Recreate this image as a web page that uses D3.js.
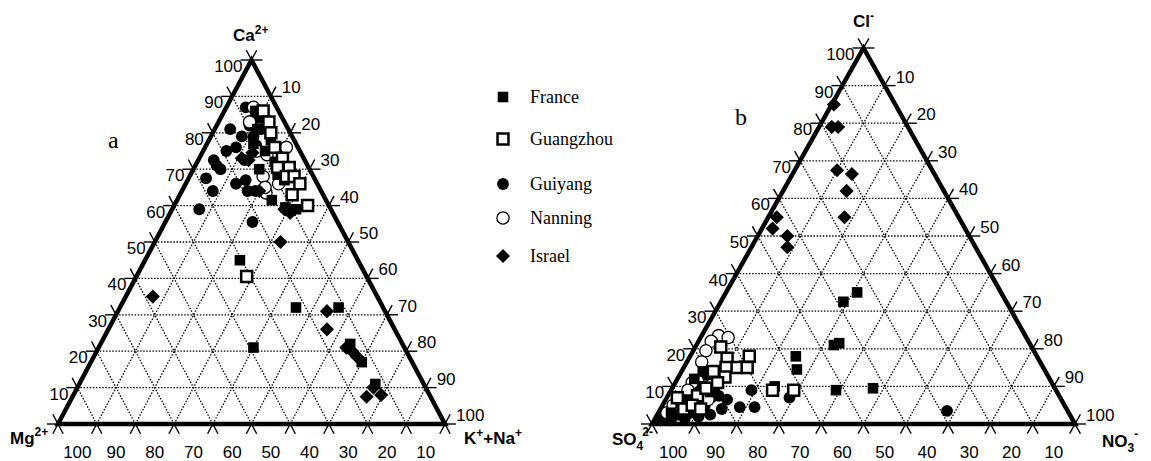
<!DOCTYPE html>
<html>
<head>
<meta charset="utf-8">
<script src="https://cdn.jsdelivr.net/npm/d3@7"></script>
<style>
  body { margin: 0; background: #fff; }
  svg { display: block; }
</style>
</head>
<body>
<script>
'use strict';

// ternary values: [top %, right %]  (left component = 100 - top - right)
// panel a: top = Ca2+, right = K+ + Na+
const caFrance = [[84,11],[81,11],[78,16],[75,16],[72,20],[68.5,22.5],[67,25],[61.5,24.5],[59.5,29],[59,32],
  [45,24.5],[32,45.5],[32,56.5],[21,40],[22,64.5],[17,70],[11,76.5],[86,8],[77,12],[70,17]];
const caGuangzhou = [[86,10],[83,13],[80,15],[76,18],[73,21.5],[70.5,21.5],[70.5,24.5],[68,25],[68,27],
  [66,29.5],[63,29],[60,34.5],[40.5,28.5]];
const caGuiyang = [[87,5],[81,4],[79,11],[79,8],[76,8],[75,6],[72.5,4],[71,5.5],[70,7],[67.5,4.5],[64,8],
  [66,13],[67,15],[64,17],[59,7],[55.5,22.5],[72.5,12],[64,19],[82,8.5],[76.5,13],[81,12],[84,9]];
const caNanning = [[87,7],[83,8],[75,14],[74,17],[68,19],[63.5,22],[66,24],[76,21],[65,21]];
const caIsrael = [[35,7],[50,32.5],[31,54],[26,56.5],[21,64],[20,66],[18.5,68],[7.5,76],[10,76.5],[8,79.5],
  [72.5,13],[73,11],[74.5,13],[64,20],[59,29],[58,31]];

// panel b: top = Cl-, right = NO3-
const clFrance = [[35,31],[32.5,29],[21,32.5],[21.5,33.5],[18,25],[14.5,27],[9,39],[9.5,47.5],[10,24],
  [12,4],[14,5],[8.5,9.5],[6.5,5],[15.5,14],[5.5,4],[3,3],[10,7]];
const clGuangzhou = [[18,14],[17.5,9],[20.5,6],[15,12.5],[15,15],[15,10],[14,7.5],[12.5,11],[11,10],
  [9,24],[9,29],[7,2.5],[4,5.5],[7.5,7],[9.5,8],[5,7],[4,9.5]];
const clGuiyang = [[9,19],[6.5,14.5],[4.5,18.5],[4.5,22],[4,14.5],[7,29],[3.5,68],[7.5,7.5],[5,10],[7,10.5],
  [3,8.5],[1.5,7],[1,4],[2.5,5],[2.5,12.5],[6.5,6],[9.5,10],[10.5,6],[13,6.5],[8.5,4.5],[1,1.5],[7.5,12],
  [2,10],[4,4],[1.5,2.5]];
const clNanning = [[23.5,4],[23,6.5],[22,3],[19.5,3],[16.5,3.5],[11.5,5],[11,4],[9,4],[6.5,10],[3,2],[5,2.5]];
const clIsrael = [[85,0.5],[79,3],[79,4.5],[67.5,10],[66.5,14],[62,15],[55,18],[55,2],[52,2.5],[50,7],[47,8.5]];

const edgeTicks = [10, 20, 30, 40, 50, 60, 70, 80, 90, 100];
const baseTicks = [100, 90, 80, 70, 60, 50, 40, 30, 20, 10];
const seriesNames = ['France', 'Guangzhou', 'Guiyang', 'Nanning', 'Israel'];

let svg;

window.onload = function() {
  svg = d3.select('body').append('svg')
    .attr('width', 1151)
    .attr('height', 461);

  // panel a
  let a = makeTriangle(58, 445, 424, 60);
  drawGrid(a);
  plotSeries(a, [caFrance, caGuangzhou, caGuiyang, caNanning, caIsrael]);
  drawFrame(a);

  // panel b
  let b = makeTriangle(652, 1075, 424, 48);
  drawGrid(b);
  plotSeries(b, [clFrance, clGuangzhou, clGuiyang, clNanning, clIsrael]);
  drawFrame(b);

  makeLabels();
  makeLegend();
};

// scales for a triangle: x from base fraction, y from top fraction
function makeTriangle(x0, x1, yBase, yTop) {
  let xs = d3.scaleLinear().domain([0, 100]).range([x0, x1]);
  let ys = d3.scaleLinear().domain([0, 100]).range([yBase, yTop]);
  let pos = function(t, r) { return [xs(r + t / 2), ys(t)]; };
  return { xs: xs, ys: ys, pos: pos };
}

function drawGrid(tri) {
  let g = svg.append('g')
    .attr('stroke', '#000')
    .attr('stroke-width', 1.3)
    .attr('stroke-dasharray', '1.5,1.6')
    .attr('fill', 'none');
  let ticks = svg.append('g').attr('stroke', '#000').attr('stroke-width', 1.4);
  let ext = 11;

  d3.range(0, 101, 10).forEach(function(v) {
    // horizontal line (top = v)
    let p1 = tri.pos(v, 0), p2 = tri.pos(v, 100 - v);
    // parallel to right edge (right = v)
    let q1 = tri.pos(0, v), q2 = tri.pos(100 - v, v);
    // parallel to left edge (left = v)
    let r1 = tri.pos(0, 100 - v), r2 = tri.pos(100 - v, 0);
    if (v > 0 && v < 100) {
      [[p1, p2], [q1, q2], [r1, r2]].forEach(function(s) {
        g.append('line')
          .attr('x1', s[0][0]).attr('y1', s[0][1])
          .attr('x2', s[1][0]).attr('y2', s[1][1]);
      });
    }
    let dl = unit(tri.pos(100, 0), tri.pos(0, 0)); // up along left edge
    let dr = unit(tri.pos(100, 0), tri.pos(0, 100)); // up along right edge

    // ticks on base
    let b = tri.pos(0, v);
    seg(ticks, b, [b[0] - dl[0] * ext, b[1] - dl[1] * ext]);
    seg(ticks, b, [b[0] - dr[0] * ext, b[1] - dr[1] * ext]);
    // ticks on left edge
    let l = tri.pos(v, 0);
    seg(ticks, l, [l[0] - ext, l[1]]);
    seg(ticks, l, [l[0] + dr[0] * ext, l[1] + dr[1] * ext]);
    // ticks on right edge
    let r = tri.pos(100 - v, v);
    seg(ticks, r, [r[0] + ext, r[1]]);
    seg(ticks, r, [r[0] + dl[0] * ext, r[1] + dl[1] * ext]);
  });
}

function unit(p, q) {
  let dx = p[0] - q[0], dy = p[1] - q[1];
  let len = Math.sqrt(dx * dx + dy * dy);
  return [dx / len, dy / len];
}

function seg(g, p, q) {
  g.append('line')
    .attr('x1', p[0]).attr('y1', p[1])
    .attr('x2', q[0]).attr('y2', q[1]);
}

function drawFrame(tri) {
  let pts = [tri.pos(0, 0), tri.pos(100, 0), tri.pos(0, 100)];
  svg.append('path')
    .attr('d', d3.line()(pts) + 'Z')
    .attr('fill', 'none')
    .attr('stroke', '#000')
    .attr('stroke-width', 4.5)
    .attr('stroke-linejoin', 'miter');

  let txt = svg.append('g')
    .style('font-family', '"Liberation Sans", Arial, sans-serif')
    .style('font-size', '17px')
    .attr('fill', '#000');

  // left edge labels
  edgeTicks.forEach(function(v) {
    let p = tri.pos(v, 0);
    txt.append('text')
      .attr('x', p[0] - 9).attr('y', p[1] + 12)
      .attr('text-anchor', 'end')
      .text(v);
  });
  // right edge labels
  edgeTicks.forEach(function(v) {
    let p = tri.pos(100 - v, v);
    txt.append('text')
      .attr('x', p[0] + 11).attr('y', p[1] - 3)
      .text(v);
  });
  // base labels (between ticks)
  baseTicks.forEach(function(v, i) {
    txt.append('text')
      .attr('x', tri.xs(i * 10 + 5)).attr('y', 458)
      .attr('text-anchor', 'middle')
      .text(v);
  });
}

function symbolFor(i) {
  let s = [d3.symbolSquare, d3.symbolSquare, d3.symbolCircle, d3.symbolCircle, d3.symbolSquare][i];
  let size = [112, 120, 110, 118, 100][i];
  return d3.symbol().type(s).size(size)();
}

function styleMark(sel, i) {
  if (i === 1) {
    sel.attr('fill', '#fff').attr('stroke', '#000').attr('stroke-width', 2.5);
  } else if (i === 3) {
    sel.attr('fill', '#fff').attr('stroke', '#000').attr('stroke-width', 1.3);
  } else {
    sel.attr('fill', '#000').attr('stroke', 'none');
  }
}

function plotSeries(tri, list) {
  let order = [2, 3, 0, 1, 4];
  order.forEach(function(i) {
    let marks = svg.append('g').selectAll('path')
      .data(list[i])
      .enter()
      .append('path')
      .attr('d', symbolFor(i))
      .attr('transform', function(d) {
        let p = tri.pos(d[0], d[1]);
        return 'translate(' + p[0] + ',' + p[1] + ')' + (i === 4 ? 'rotate(45)' : '');
      });
    styleMark(marks, i);
  });
}

function makeLabels() {
  let bold = svg.append('g')
    .style('font-family', '"Liberation Sans", Arial, sans-serif')
    .style('font-weight', 'bold')
    .style('font-size', '17px');

  let t = bold.append('text').attr('x', 233).attr('y', 41);
  t.append('tspan').text('Ca');
  t.append('tspan').attr('dy', -7).style('font-size', '12px').text('2+');

  t = bold.append('text').attr('x', 10).attr('y', 444);
  t.append('tspan').text('Mg');
  t.append('tspan').attr('dy', -8).style('font-size', '12px').text('2+');

  t = bold.append('text').attr('x', 464).attr('y', 444);
  t.append('tspan').text('K');
  t.append('tspan').attr('dy', -7).style('font-size', '12px').text('+');
  t.append('tspan').attr('dy', 7).text('+Na');
  t.append('tspan').attr('dy', -7).style('font-size', '12px').text('+');

  t = bold.append('text').attr('x', 853).attr('y', 27);
  t.append('tspan').text('Cl');
  t.append('tspan').attr('dy', -7).style('font-size', '12px').text('-');

  t = bold.append('text').attr('x', 612).attr('y', 445);
  t.append('tspan').text('SO');
  t.append('tspan').attr('dy', 5).style('font-size', '12px').text('4');
  t.append('tspan').attr('dy', -14).attr('dx', -1).style('font-size', '12px').text('2-');

  t = bold.append('text').attr('x', 1102).attr('y', 447);
  t.append('tspan').text('NO');
  t.append('tspan').attr('dy', 5).style('font-size', '12px').text('3');
  t.append('tspan').attr('dy', -14).style('font-size', '12px').text('-');

  let serif = svg.append('g')
    .style('font-family', '"Liberation Serif", "Times New Roman", serif')
    .style('font-size', '24px');
  serif.append('text').attr('x', 108).attr('y', 148).text('a');
  serif.append('text').attr('x', 735).attr('y', 125).text('b');
}

function makeLegend() {
  let rows = [97, 139, 184, 218, 256];
  let g = svg.append('g');
  seriesNames.forEach(function(name, i) {
    let m = g.append('path')
      .attr('d', symbolFor(i))
      .attr('transform', 'translate(503,' + rows[i] + ')' + (i === 4 ? 'rotate(45)' : ''));
    styleMark(m, i);
    g.append('text')
      .attr('x', 530).attr('y', rows[i] + 6)
      .style('font-family', '"Liberation Serif", "Times New Roman", serif')
      .style('font-size', '18px')
      .text(name);
  });
}
</script>
</body>
</html>
